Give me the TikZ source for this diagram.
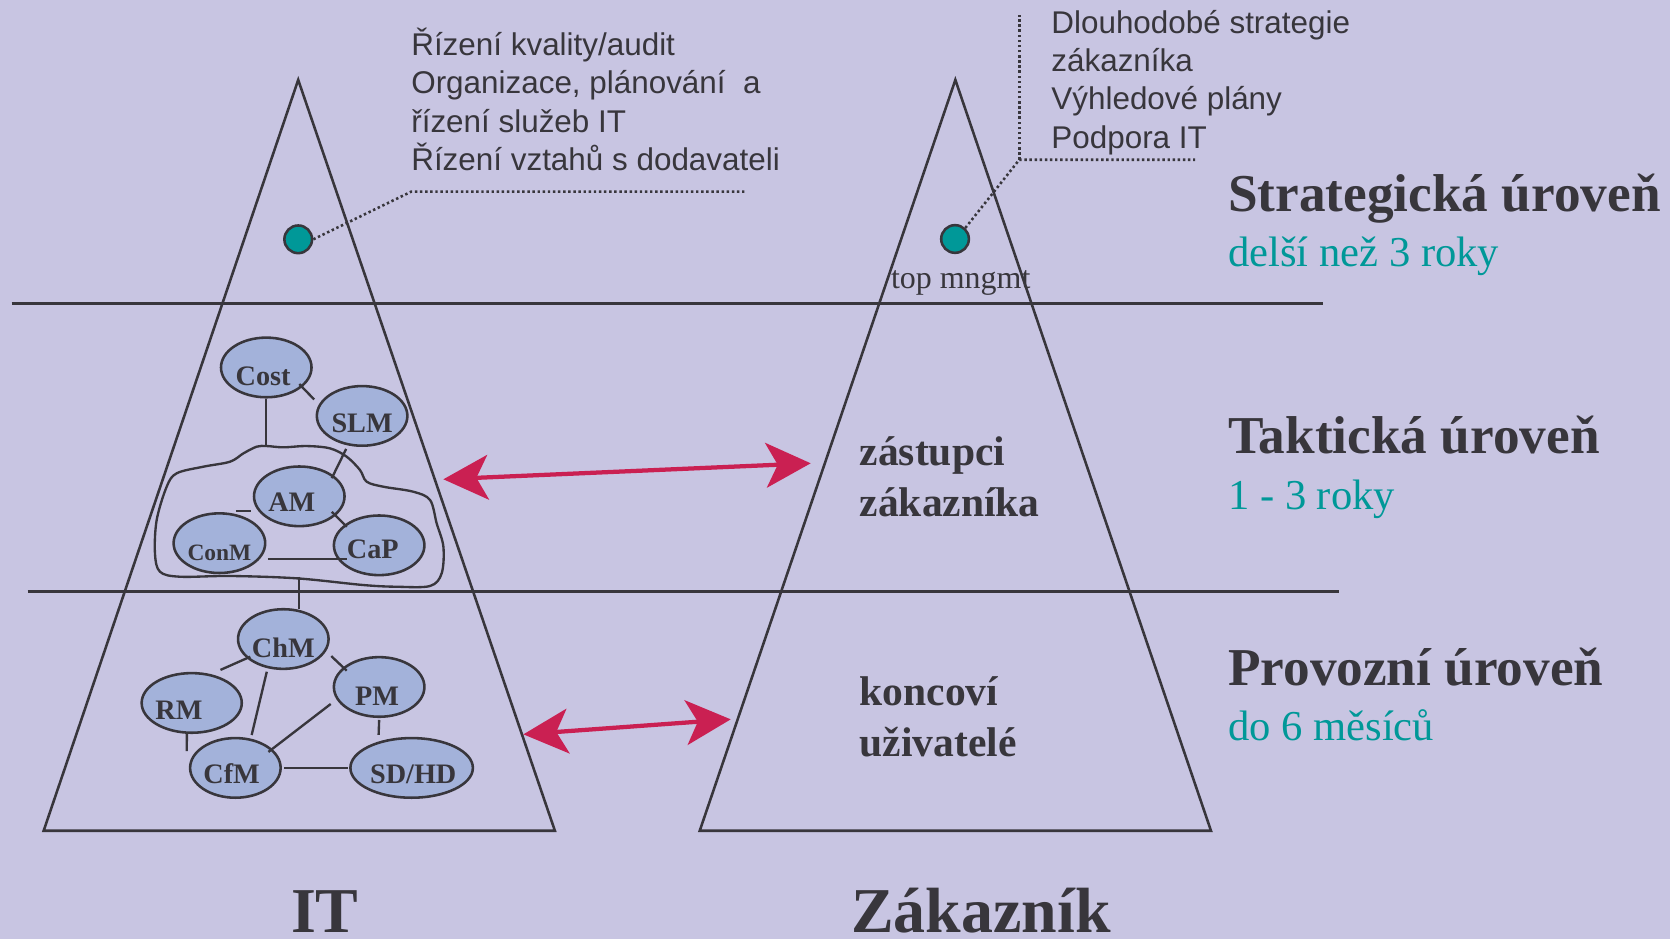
\documentclass[tikz,border=0pt]{standalone}
\usepackage{fontspec}
\setmainfont{Liberation Serif}
\newfontfamily\notefont{Liberation Sans}
\usetikzlibrary{arrows.meta,shapes.geometric,calc}

\definecolor{pagebg}{RGB}{200,197,226}
\definecolor{ink}{RGB}{56,54,60}
\definecolor{tealc}{RGB}{0,152,152}
\definecolor{bubblefill}{RGB}{163,178,218}
\definecolor{crimson}{RGB}{202,32,82}

% shift a label sideways inside its bubble without changing the box width
\newcommand\nudge[2]{\hspace*{#1}#2\hspace*{-#1}}

\tikzset{
  outline/.style={draw=ink, line width=2.4pt},
  bub/.style={ellipse, draw=ink, fill=bubblefill, line width=2.4pt, inner sep=0pt,
    minimum width=85pt, minimum height=56pt, text=ink,
    font=\bfseries\fontsize{26.5}{26.5}\selectfont, text depth=0pt},
  linkline/.style={draw=ink, line width=2.2pt},
  leader/.style={draw=ink, line width=2.4pt, dash pattern=on 2.3pt off 2.5pt},
  twoway/.style={draw=crimson, line width=4pt,
    {Stealth[length=42pt,width=42pt,inset=11pt]}-{Stealth[length=42pt,width=42pt,inset=11pt]}},
  tealdot/.style={circle, draw=ink, fill=tealc, line width=2.4pt, minimum size=26pt, inner sep=0pt},
  % multi-line texts are anchored at the baseline of their last line
  notetext/.style={anchor=base west, align=left, inner sep=0pt, text=ink,
    font=\notefont\fontsize{29.5}{36}\selectfont},
  lvltitle/.style={anchor=base west, inner sep=0pt, text=ink,
    font=\bfseries\fontsize{50}{60}\selectfont},
  lvlspan/.style={anchor=base west, inner sep=0pt, text=tealc,
    font=\fontsize{40}{48}\selectfont},
  grptext/.style={anchor=base west, align=left, inner sep=0pt, text=ink,
    font=\bfseries\fontsize{39}{48.5}\selectfont},
  sidetitle/.style={anchor=base, inner sep=0pt, text=ink,
    font=\bfseries\fontsize{60}{72}\selectfont},
}

\begin{document}
\begin{tikzpicture}[x=1pt,y=-1pt]
\useasboundingbox (0,0) rectangle (1568,882);
\fill[pagebg] (0,0) rectangle (1568,882);

% level separators
\draw[outline] (11,285) -- (1242,285);
\draw[outline] (26,555.5) -- (1257,555.5);

% the two pyramids
\draw[outline] (280,75) -- (521,780) -- (41,780) -- cycle;
\draw[outline] (897,75) -- (1137,780) -- (657,780) -- cycle;

% tactical group outline
\draw[outline, line width=2.2pt] plot[smooth cycle, tension=0.55] coordinates {
  (250.4,418.8) (266.1,420) (288,418.8) (309.9,421) (325.5,428.8) (338.0,441.3)
  (344.3,452.3) (360,457) (388.1,461.7) (403.8,469.5) (410,491.4) (416.3,513.3)
  (414.7,538.3) (403.8,550.2) (372.5,550.9) (341.2,549.3) (278.6,543) (216,540.8)
  (169,541.5) (150.2,536.8) (145.5,519.6) (147.1,488.3) (156.5,457) (165.9,444.4)
  (190.9,438.2) (216,433.5) (228.5,425.7) (241,419.4)};
\coordinate (grouptop) at (250,419);
\coordinate (groupbottom) at (281,541.5);

% IT processes
\node[bub, text height=33.2pt] (Cost) at (250,345) {\nudge{-3pt}{Cost}};
\node[bub, text height=31.2pt] (SLM) at (340,390.5) {SLM};
\node[bub, text height=29.2pt] (AM) at (281,466) {\nudge{-7pt}{AM}};
\node[bub, text height=32.6pt, minimum width=86pt, font=\bfseries\fontsize{22}{22}\selectfont] (ConM) at (206,510) {ConM};
\node[bub, text height=25.2pt] (CaP) at (356,512) {\nudge{-6pt}{CaP}};
\node[bub, text height=35.2pt] (ChM) at (266,600) {ChM};
\node[bub, text height=34.2pt] (PM) at (356,645) {\nudge{-2pt}{PM}};
\node[bub, text height=31.2pt, minimum width=94pt] (RM) at (180,660) {\nudge{-12pt}{RM}};
\node[bub, text height=29.2pt] (CfM) at (221,721) {\nudge{-3.5pt}{CfM}};
\node[bub, text height=29.2pt, minimum width=115pt] (SDHD) at (386.5,721) {\nudge{1.5pt}{SD/HD}};

% relations between processes
\draw[linkline] ($(Cost)+(31,15.6)$) -- ($(SLM)+(-45,-15.4)$);
\draw[linkline] (Cost.south) -- (grouptop);
\draw[linkline] ($(SLM)+(-15,31)$) -- ($(AM)+(30.5,-17)$);
\draw[linkline] ($(ConM)+(15.5,-30)$) -- ($(AM)+(-45.5,14)$);
\draw[linkline] ($(AM)+(30.5,14.6)$) -- ($(CaP)+(-30.4,-17.4)$);
\draw[linkline] ($(ConM)+(45.6,15)$) -- ($(CaP)+(-30.4,13)$);
\draw[linkline] (groupbottom) -- ($(ChM)+(15,-28)$);
\draw[linkline] ($(ChM)+(-31,16.6)$) -- ($(RM)+(27,-31)$);
\draw[linkline] ($(ChM)+(45,16)$) -- ($(PM)+(-30.5,-15.3)$);
\draw[linkline] ($(ChM)+(-15.5,30.7)$) -- ($(CfM)+(15.3,-30.9)$);
\draw[linkline] ($(PM)+(-45.5,16)$) -- ($(CfM)+(31,-15)$);
\draw[linkline] ($(PM)+(0,31)$) -- ($(SDHD)+(-31,-31)$);
\draw[linkline] ($(RM)+(-4.5,29.2)$) -- ($(CfM)+(-45.7,-15.8)$);
\draw[linkline] ($(CfM)+(45.7,0)$) -- ($(SDHD)+(-59.4,0)$);

% strategic level: dots and callouts
\node[tealdot] (itdot) at (280,224.7) {};
\node[tealdot] (cdot) at (896.7,224.4) {};
\node[anchor=base, inner sep=0pt, text=ink, font=\fontsize{30}{36}\selectfont] (topm) at (902,271) {top mngmt};

\coordinate (itbend) at (386,180);
\coordinate (itend) at (700,180);
\draw[leader] (itdot.east) -- (itbend) -- (itend);
\coordinate (cbend) at (957,150);
\coordinate (cend) at (1122,150);
\coordinate (ctop) at (957,14);
\draw[leader] (cdot.47) -- (cbend) -- (cend);
\draw[leader] (cbend) -- (ctop);

\node[notetext] (itnote) at (386,160) {Řízení kvality/audit\\Organizace, plánování~ a\\řízení služeb IT\\Řízení vztahů s dodavateli};
\node[notetext] (cnote) at (987,139) {Dlouhodobé strategie\\zákazníka\\Výhledové plány\\Podpora IT};

% customer side groups
\node[grptext] (reps) at (807,485.1) {zástupci\\zákazníka};
\node[grptext] (users) at (807,710.5) {koncoví\\uživatelé};

% communication between IT and customer
\coordinate (tacL) at (416.3,450);
\coordinate (tacR) at (761.2,435);
\coordinate (opL) at (491.4,689.5);
\coordinate (opR) at (686.1,675.4);
\draw[twoway] (tacL) -- (tacR);
\draw[twoway] (opL) -- (opR);

% level captions
\node[lvltitle] (strat) at (1153,199) {Strategická úroveň};
\node[lvlspan] (stratspan) at (1153,250) {delší než 3 roky};
\node[lvltitle] (takt) at (1153,426) {Taktická úroveň};
\node[lvlspan] (taktspan) at (1153,478) {1 - 3 roky};
\node[lvltitle] (prov) at (1153,644) {Provozní úroveň};
\node[lvlspan] (provspan) at (1153,695) {do 6 měsíců};

% column captions
\node[sidetitle] (itcap) at (305,876) {IT};
\node[sidetitle] (ccap) at (921,876) {Zákazník};
\end{tikzpicture}
\end{document}
